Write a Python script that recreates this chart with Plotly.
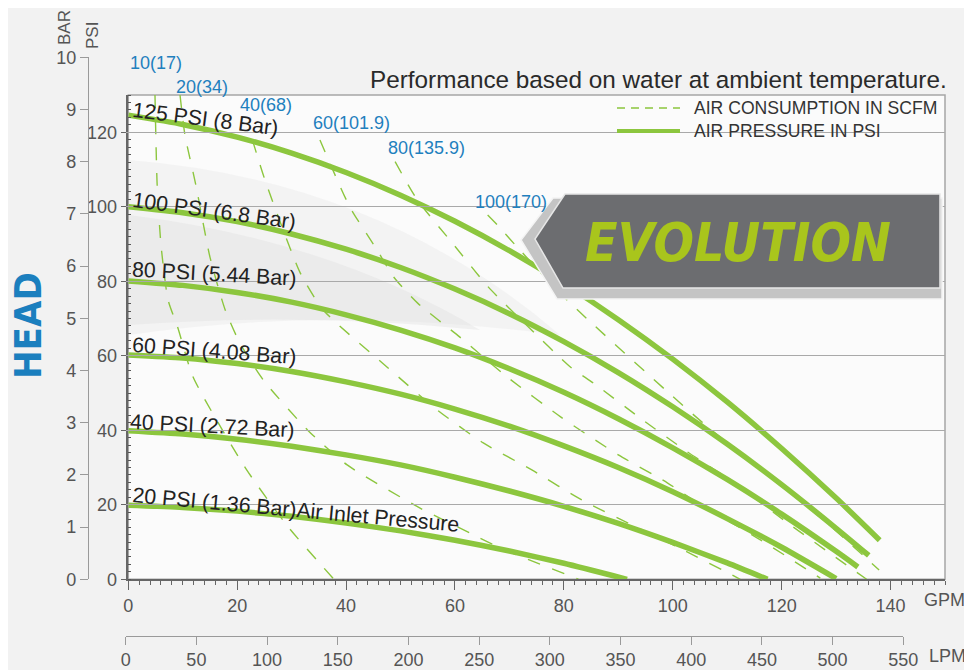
import plotly.graph_objects as go

# ---------------- data ----------------
# Air-pressure (solid) curves: head in PSI vs flow in GPM
gpm_125 = [0, 10, 20, 30, 40, 50, 60, 70, 80, 90, 100, 110, 120, 130, 138]
psi_125 = [124.6, 122.1, 118.7, 114.4, 109.2, 103.1, 96.1, 88.2, 79.4, 69.7, 59.1, 47.6, 35.1, 21.8, 10.5]
gpm_100 = [0, 10, 20, 30, 40, 50, 60, 70, 80, 90, 100, 110, 120, 130, 136]
psi_100 = [100.0, 98.4, 96.0, 92.7, 88.6, 83.7, 77.9, 71.3, 63.8, 55.5, 46.3, 36.3, 25.4, 13.7, 6.4]
gpm_80 = [0, 10, 20, 30, 40, 50, 60, 70, 80, 90, 100, 110, 120, 130, 134]
psi_80 = [80.1, 78.9, 77.0, 74.4, 71.0, 66.9, 62.1, 56.5, 50.2, 43.1, 35.3, 26.8, 17.5, 7.5, 3.3]
gpm_60 = [0, 10, 20, 30, 40, 50, 60, 70, 80, 90, 100, 110, 120, 130]
psi_60 = [60.2, 59.4, 57.9, 55.8, 53.0, 49.7, 45.7, 41.1, 35.8, 30.0, 23.5, 16.3, 8.6, 0.2]
gpm_40 = [0, 10, 20, 30, 40, 50, 60, 70, 80, 90, 100, 110, 117.4]
psi_40 = [39.9, 39.0, 37.6, 35.7, 33.4, 30.7, 27.4, 23.7, 19.6, 15.0, 9.9, 4.4, 0.0]
gpm_20 = [0, 10, 20, 30, 40, 50, 60, 70, 80, 91.6]
psi_20 = [19.9, 19.3, 18.3, 16.9, 15.1, 13.0, 10.5, 7.6, 4.3, 0.0]

# Air-consumption (dashed) curves
scfm10_gpm = [4.9, 5.3, 6.0, 7.3, 9.1, 11.9, 21.5, 29.4, 37.6]
scfm10_psi = [130.0, 105.9, 89.8, 75.0, 67.5, 54.3, 29.9, 14.0, 0.3]
scfm20_gpm = [9.5, 10.4, 12.4, 15.0, 17.8, 20.5, 24.8, 32.9, 40.2, 53.6, 62.8, 68.3, 82.7]
scfm20_psi = [130.0, 119.3, 105.9, 86.5, 72.3, 63.4, 53.5, 40.1, 30.7, 19.1, 12.4, 8.4, 0.0]
scfm40_gpm = [22.8, 25.1, 31.6, 35.8, 47.5, 56.7, 65.2, 74.2, 83.4, 101.9, 112.4]
scfm40_psi = [117.9, 107.2, 82.2, 72.3, 57.0, 45.5, 36.6, 29.3, 21.2, 7.9, 0.0]
scfm60_gpm = [35.2, 40.7, 45.7, 48.7, 53.1, 60.9, 69.6, 79.4, 90.0, 99.0, 105.1, 116.1, 127.1]
scfm60_psi = [117.9, 99.9, 88.4, 81.2, 74.2, 65.0, 54.3, 43.6, 33.4, 25.9, 20.0, 10.6, 0.3]
scfm80_gpm = [49.0, 53.1, 59.5, 66.1, 73.5, 81.2, 85.4, 94.0, 102.7, 111.1, 121.6, 135.6]
scfm80_psi = [112.1, 101.8, 90.3, 78.5, 67.7, 57.0, 52.7, 43.3, 34.2, 26.1, 14.6, 0.0]
scfm100_gpm = [66.0, 67.8, 71.1, 80.2, 105.6, 127.7, 137.9]
scfm100_psi = [97.8, 95.1, 89.7, 75.5, 41.9, 15.9, 2.5]

pressure_labels = ["125 PSI (8 Bar)", "100 PSI (6.8 Bar)", "80 PSI (5.44 Bar)",
                   "60 PSI (4.08 Bar)", "40 PSI (2.72 Bar)",
                   "20 PSI (1.36 Bar)Air Inlet Pressure"]
scfm_labels = ["10(17)", "20(34)", "40(68)", "60(101.9)", "80(135.9)", "100(170)"]

gpm_ticks = [0, 20, 40, 60, 80, 100, 120, 140]
psi_ticks = [0, 20, 40, 60, 80, 100, 120]
bar_ticks = [0, 1, 2, 3, 4, 5, 6, 7, 8, 9, 10]
lpm_ticks = [0, 50, 100, 150, 200, 250, 300, 350, 400, 450, 500, 550]

# ---------------- styling / layout helpers ----------------
# The page body adds an 8px margin, so the figure is 8px smaller and all
# page-pixel positions are shifted by that offset.
OFF = 8
W, H = 972 - OFF, 670 - OFF
def px(x):
    return (x - OFF) / W
def py(y):
    return 1 - (y - OFF) / H

GREEN = "#8cc63e"
BLUE = "#1f80be"
FONT = "Liberation Sans, Arial, sans-serif"
NARROW = "Liberation Sans Narrow, DejaVu Sans Condensed, sans-serif"
TICKC = "#555555"

fig = go.Figure()

pressure_series = [(gpm_125, psi_125), (gpm_100, psi_100), (gpm_80, psi_80),
                   (gpm_60, psi_60), (gpm_40, psi_40), (gpm_20, psi_20)]
scfm_series = [(scfm10_gpm, scfm10_psi), (scfm20_gpm, scfm20_psi), (scfm40_gpm, scfm40_psi),
               (scfm60_gpm, scfm60_psi), (scfm80_gpm, scfm80_psi), (scfm100_gpm, scfm100_psi)]

for (gx, gy), name in zip(scfm_series, scfm_labels):
    fig.add_trace(go.Scatter(x=gx, y=gy, mode="lines", name=name, showlegend=False,
                             line=dict(color=GREEN, width=1.4, dash="13px,13px",
                                       shape="spline", smoothing=0.6),
                             hoverinfo="skip"))
for (gx, gy), name in zip(pressure_series, pressure_labels):
    fig.add_trace(go.Scatter(x=gx, y=gy, mode="lines", name=name, showlegend=False,
                             line=dict(color=GREEN, width=5.5, shape="spline", smoothing=0.6),
                             hoverinfo="skip"))

# invisible anchors so the BAR and LPM axes are drawn
fig.add_trace(go.Scatter(x=[0], y=[0], xaxis="x", yaxis="y2", mode="markers",
                         marker=dict(opacity=0), showlegend=False, hoverinfo="skip"))
fig.add_trace(go.Scatter(x=[0], y=[0], xaxis="x2", yaxis="y", mode="markers",
                         marker=dict(opacity=0), showlegend=False, hoverinfo="skip"))

tickfont = dict(family=FONT, size=18, color=TICKC)

fig.update_layout(
    width=W, height=H, autosize=False,
    margin=dict(l=0, r=0, t=0, b=0, pad=0),
    paper_bgcolor="#f2f2f2",
    plot_bgcolor="rgba(0,0,0,0)",
    showlegend=False,
    xaxis=dict(domain=[px(128.3), px(945)], range=[0, 150], anchor="y", automargin=False,
               tickmode="array", tickvals=gpm_ticks, ticktext=[str(t) for t in gpm_ticks],
               ticks="outside", ticklen=9, tickcolor="#666", tickwidth=1.3,
               showline=True, linecolor="#666", linewidth=1.5,
               showgrid=False, zeroline=False, tickfont=tickfont,
               minor=dict(tickmode="linear", tick0=0, dtick=2, ticks="outside",
                          ticklen=4, tickcolor="#666", showgrid=False)),
    yaxis=dict(domain=[py(579.3), py(95)], range=[0, 130], anchor="x", automargin=False,
               tickmode="array", tickvals=psi_ticks, ticktext=[str(t) for t in psi_ticks],
               ticks="outside", ticklen=6, tickcolor="#666", tickwidth=1.3,
               showline=True, linecolor="#666", linewidth=1.5,
               showgrid=True, gridcolor="#a9a9a9", gridwidth=1.2,
               zeroline=False, tickfont=tickfont,
               minor=dict(tickmode="linear", tick0=0, dtick=2, ticks="inside",
                          ticklen=3, tickcolor="#555", showgrid=False)),
    yaxis2=dict(domain=[py(579.3), py(57.3)], range=[0, 10], anchor="free", automargin=False,
                position=px(88), side="left",
                tickmode="array", tickvals=bar_ticks, ticktext=[str(t) for t in bar_ticks],
                ticks="outside", ticklen=8, tickcolor="#9a9a9a",
                showline=True, linecolor="#9a9a9a", linewidth=1.2,
                showgrid=False, zeroline=False, tickfont=tickfont),
    xaxis2=dict(domain=[px(125.7), px(903.3)], range=[0, 550], anchor="free", automargin=False,
                position=py(635.5), side="bottom",
                tickmode="array", tickvals=lpm_ticks, ticktext=[str(t) for t in lpm_ticks],
                ticks="outside", ticklen=8, tickcolor="#9a9a9a",
                showline=True, linecolor="#9a9a9a", linewidth=1.2,
                showgrid=False, zeroline=False, tickfont=tickfont),
)

def pt(x, y):
    return f"{px(x):.5f},{py(y):.5f}"

def path(points):
    return "M " + " L ".join(pt(x, y) for x, y in points) + " Z"

shapes = [
    # plot area background
    dict(type="rect", xref="paper", yref="paper", x0=px(128.3), x1=px(945), y0=py(579.3), y1=py(95),
         fillcolor="#fbfbfb", line=dict(color="#a6a6a6", width=1.5), layer="below"),
    # soft grey swooshes
    dict(type="path", xref="paper", yref="paper", layer="below",
         path=f"M {pt(129, 160)} Q {pt(380, 180)} {pt(560, 335)} Q {pt(330, 305)} {pt(129, 335)} Z",
         fillcolor="#e4e4e4", opacity=0.35, line=dict(width=0)),
    dict(type="path", xref="paper", yref="paper", layer="below",
         path=f"M {pt(129, 215)} Q {pt(330, 240)} {pt(480, 330)} Q {pt(300, 312)} {pt(129, 325)} Z",
         fillcolor="#dedede", opacity=0.35, line=dict(width=0)),
    # legend samples
    dict(type="line", xref="paper", yref="paper", x0=px(617), x1=px(680), y0=py(108), y1=py(108),
         line=dict(color=GREEN, width=1.5, dash="8px,6px"), layer="above"),
    dict(type="line", xref="paper", yref="paper", x0=px(617), x1=px(680), y0=py(131), y1=py(131),
         line=dict(color=GREEN, width=4), layer="above"),
    # banner: outer light chevron + shadow
    dict(type="path", xref="paper", yref="paper", layer="above",
         path=path([(553, 198), (521, 240), (557, 299), (942, 299), (942, 198)]),
         fillcolor="#c4c4c4", line=dict(color="#f4f4f4", width=1.5)),
    # banner: dark body
    dict(type="path", xref="paper", yref="paper", layer="above",
         path=path([(565, 194), (535, 239), (563, 288), (940, 288), (940, 194)]),
         fillcolor="#6c6d70", line=dict(color="#e6e6e6", width=1.5)),
]
fig.update_layout(shapes=shapes)

ann = []
def text(x, y, s, size, color="#2b2b2b", angle=0, xanchor="center", family=FONT):
    ann.append(dict(xref="paper", yref="paper", x=px(x), y=py(y), text=s, showarrow=False,
                    xanchor=xanchor, yanchor="middle", textangle=angle,
                    font=dict(family=family, size=size, color=color)))

text(949, 80, "Performance based on water at ambient temperature.", 24.3, "#2a2a2a", xanchor="right")
text(692, 108, "AIR CONSUMPTION IN SCFM", 17.6, "#333333", xanchor="left")
text(692, 131, "AIR PRESSURE IN PSI", 17.6, "#333333", xanchor="left")

# pressure curve labels
label_pos = [(205, 119, 7.3), (214, 211, 7.8), (214, 273.5, 3.2),
             (214, 351, 4.3), (212, 426, 3.0), (296, 510, 5.2)]
for s, (x, y, a) in zip(pressure_labels, label_pos):
    text(x, y, s, 21.3, "#222222", angle=a)

# air consumption labels
scfm_pos = [(156, 63), (202, 87), (266, 105), (351, 123), (426, 148), (511, 202)]
for s, (x, y) in zip(scfm_labels, scfm_pos):
    text(x, y, s, 18, BLUE)

# axis captions
text(65, 28, "BAR", 17, TICKC, angle=-90)
text(93, 36, "PSI", 17, TICKC, angle=-90)
text(28, 326, "<b>HEAD</b>", 38, "#1b7fbe", angle=-90, family=NARROW)
text(922, 600, "GPM", 18, TICKC, xanchor="left")
text(927, 656, "LPM", 18, TICKC, xanchor="left")

# banner text
text(738, 242, "<b><i>EVOLUTION</i></b>", 53, "#a9c51c", family=NARROW)

fig.update_layout(annotations=ann)
fig.write_html("out.html", config={"displayModeBar": False})
